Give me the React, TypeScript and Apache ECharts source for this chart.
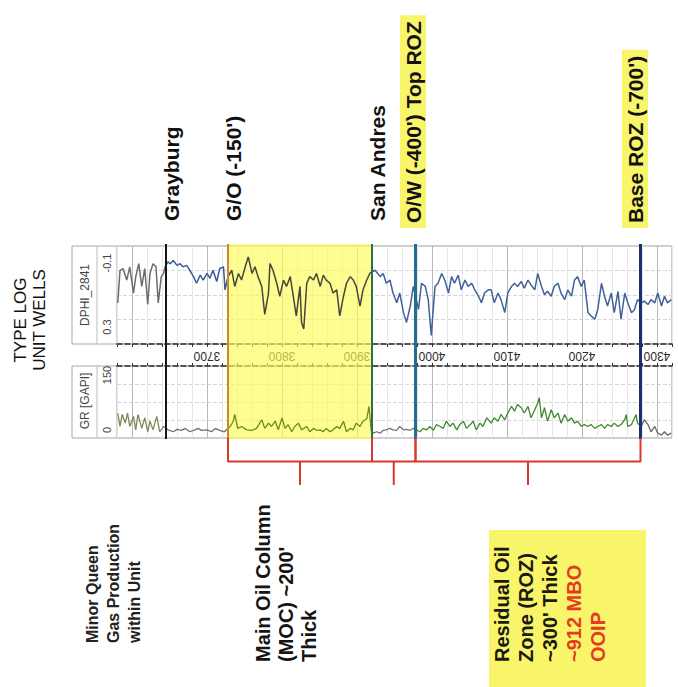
import React, { useEffect, useRef } from 'react';
import * as echarts from 'echarts';

// ---------------- data ----------------
const depthMin = 3580;
const depthMax = 4320;
const depthLabels = [3700, 3800, 3900, 4000, 4100, 4200, 4300];

const dphiDepth = [
  3581, 3584, 3588, 3593, 3597, 3602, 3605, 3609, 3613, 3617,
  3621, 3624, 3628, 3632, 3635, 3639, 3642, 3644, 3648, 3651,
  3655, 3660, 3664, 3668, 3673, 3677, 3682, 3686, 3691, 3695,
  3700, 3704, 3708, 3713, 3717, 3722, 3724, 3728, 3733, 3737,
  3742, 3746, 3751, 3755, 3760, 3764, 3768, 3773, 3777, 3782,
  3784, 3788, 3793, 3797, 3802, 3806, 3811, 3815, 3819, 3824,
  3826, 3829, 3833, 3837, 3842, 3846, 3851, 3855, 3859, 3864,
  3868, 3873, 3877, 3882, 3886, 3891, 3895, 3899, 3904, 3908,
  3913, 3917, 3924, 3931, 3935, 3939, 3944, 3948, 3953, 3957,
  3962, 3966, 3971, 3975, 3977, 3982, 3986, 3991, 3995, 3999,
  4004, 4008, 4013, 4017, 4022, 4026, 4030, 4035, 4039, 4044,
  4048, 4053, 4057, 4062, 4066, 4070, 4075, 4079, 4083, 4088,
  4092, 4097, 4101, 4106, 4110, 4114, 4119, 4123, 4128, 4132,
  4137, 4141, 4146, 4150, 4154, 4159, 4163, 4168, 4172, 4177,
  4181, 4186, 4190, 4194, 4199, 4203, 4208, 4212, 4217, 4221,
  4226, 4230, 4234, 4239, 4243, 4248, 4252, 4257, 4261, 4266,
  4270, 4274, 4279, 4283, 4288, 4292, 4297, 4301, 4306, 4310,
  4314, 4319,
];
const dphiValue = [
  0.132, 0.0, -0.008, 0.039, -0.015, 0.092, 0.025, -0.028, 0.065, -0.008,
  0.139, 0.012, -0.028, -0.015, 0.132, 0.025, 0.012, -0.015, -0.035, -0.028,
  -0.041, -0.021, -0.028, -0.015, -0.021, -0.001, 0.025, 0.052, 0.019, 0.039,
  0.012, 0.032, -0.001, 0.045, -0.008, -0.015, 0.079, 0.025, -0.001, 0.065,
  0.012, 0.039, -0.015, -0.055, 0.012, -0.015, 0.025, 0.065, 0.179, 0.092,
  -0.028, -0.001, 0.052, 0.105, 0.039, 0.065, 0.025, 0.105, 0.185, 0.065,
  0.212, 0.239, 0.052, 0.025, 0.039, 0.012, 0.065, 0.019, 0.039, 0.052,
  0.092, 0.079, 0.185, 0.105, 0.052, 0.025, 0.039, 0.065, 0.145, 0.079,
  0.039, 0.012, -0.001, 0.025, 0.012, 0.052, 0.039, 0.092, 0.132, 0.092,
  0.172, 0.212, 0.145, 0.065, 0.092, 0.159, 0.052, 0.065, 0.119, 0.265,
  0.065, 0.052, 0.012, 0.039, 0.092, 0.025, 0.052, 0.019, 0.079, 0.039,
  0.065, 0.052, 0.079, 0.105, 0.132, 0.092, 0.079, 0.079, 0.132, 0.092,
  0.119, 0.172, 0.092, 0.065, 0.052, 0.065, 0.045, 0.072, 0.039, 0.059,
  0.079, 0.012, 0.065, 0.099, 0.085, 0.105, 0.065, 0.052, 0.092, 0.119,
  0.079, 0.105, 0.039, 0.025, 0.065, 0.039, 0.172, 0.185, 0.199, 0.159,
  0.052, 0.105, 0.145, 0.092, 0.172, 0.085, 0.199, 0.092, 0.132, 0.172,
  0.159, 0.119, 0.132, 0.125, 0.139, 0.119, 0.132, 0.092, 0.145, 0.105,
  0.132, 0.119,
];

const grDepth = [
  3581, 3584, 3587, 3591, 3594, 3597, 3602, 3605, 3608, 3613,
  3617, 3621, 3624, 3628, 3633, 3637, 3642, 3648, 3655, 3660,
  3666, 3671, 3677, 3684, 3688, 3693, 3700, 3706, 3711, 3717,
  3723, 3731, 3735, 3737, 3741, 3746, 3753, 3760, 3766, 3773,
  3777, 3782, 3786, 3791, 3795, 3800, 3804, 3808, 3813, 3817,
  3822, 3826, 3833, 3837, 3842, 3846, 3851, 3855, 3859, 3864,
  3868, 3873, 3877, 3882, 3886, 3891, 3895, 3899, 3904, 3908,
  3913, 3916, 3919, 3922, 3926, 3931, 3935, 3939, 3944, 3948,
  3953, 3957, 3962, 3966, 3971, 3975, 3984, 3988, 3993, 3997,
  4002, 4006, 4011, 4015, 4019, 4024, 4028, 4033, 4037, 4042,
  4046, 4051, 4055, 4059, 4064, 4068, 4073, 4079, 4083, 4088,
  4092, 4097, 4101, 4106, 4110, 4114, 4119, 4123, 4128, 4132,
  4137, 4141, 4143, 4146, 4150, 4154, 4159, 4163, 4168, 4172,
  4177, 4181, 4186, 4190, 4194, 4199, 4203, 4208, 4212, 4217,
  4221, 4226, 4230, 4234, 4239, 4243, 4248, 4252, 4257, 4259,
  4261, 4266, 4270, 4272, 4274, 4279, 4283, 4288, 4292, 4297,
  4301, 4306, 4310, 4314, 4319,
];
const grValue = [
  52, 24, 49, 31, 52, 24, 45, 17, 49, 20,
  42, 13, 35, 17, 45, 13, 24, 17, 13, 18,
  16, 20, 13, 17, 20, 16, 17, 13, 20, 16,
  13, 24, 35, 49, 20, 24, 17, 16, 20, 38,
  20, 31, 24, 35, 17, 42, 20, 28, 13, 24,
  31, 17, 24, 13, 20, 16, 17, 13, 20, 13,
  17, 24, 20, 35, 13, 20, 17, 31, 24, 35,
  40, 66, 15, 10, 13, 10, 16, 17, 20, 17,
  16, 24, 17, 18, 16, 20, 13, 20, 17, 24,
  16, 28, 24, 20, 35, 24, 31, 17, 28, 35,
  20, 28, 35, 17, 31, 24, 42, 31, 42, 35,
  49, 38, 52, 66, 56, 70, 63, 52, 66, 42,
  59, 73, 84, 42, 63, 35, 59, 42, 52, 31,
  49, 35, 42, 31, 35, 24, 28, 24, 28, 20,
  24, 28, 20, 28, 24, 31, 24, 28, 38, 49,
  24, 28, 42, 49, 31, 24, 38, 28, 13, 24,
  10, 6, 13, 6, 10,
];

// formation tops
const topNames = ['Grayburg', "G/O (-150')", 'San Andres', "O/W (-400') Top ROZ", "Base ROZ (-700')"];
const topDepths = [3645, 3728, 3920, 3978, 4278];
const topColors = ['#151515', '#c98a2a', '#2f6e4a', '#1f6f8f', '#1c2f6e'];
const topWidths = [2, 2, 2, 3, 3];

// zones marked by braces
const zoneStart = [3728, 3920, 3978];
const zoneEnd = [3920, 3978, 4278];

// colour intervals of the curves
const dphiBreaks = [3580, 3645, 3728, 3920, 4330];
const dphiColors = ['#6c6c6c', '#3c5a9a', '#46473c', '#41609c'];
const grBreaks = [3580, 3645, 3728, 3920, 3978, 4278, 4330];
const grColors = ['#85855c', '#707070', '#6d8a1c', '#777777', '#3e8a2e', '#666666'];

// ---------------- layout constants ----------------
const FF = '"Liberation Sans", Arial, Helvetica, sans-serif';
const L = 117;
const W = 555;

function vtext(text: string, x: number, y: number, style: any) {
  return {
    type: 'text',
    x,
    y,
    rotation: Math.PI / 2,
    silent: true,
    style: {
      text,
      fontFamily: FF,
      align: 'left',
      verticalAlign: 'middle',
      fill: '#111',
      ...style,
    },
  };
}

export default function App() {
  const ref = useRef<HTMLDivElement>(null);

  useEffect(() => {
    document.body.style.margin = '0';
    const chart = echarts.init(ref.current!, null, { renderer: 'svg' });

    const dphiData = dphiDepth.map((d, i) => [d, dphiValue[i]]);
    const grData = grDepth.map((d, i) => [d, grValue[i]]);

    const pieces = (b: number[], c: string[]) =>
      c.map((col, i) => ({ gte: b[i], lt: b[i + 1], color: col }));

    const braceSeries = zoneStart.map((s, i) => {
      const e = zoneEnd[i];
      const m = (s + e) / 2;
      return {
        type: 'line',
        xAxisIndex: 5,
        yAxisIndex: 4,
        symbol: 'none',
        silent: true,
        z: 5,
        lineStyle: { color: '#d8392a', width: 2 },
        data: [
          [s, 0],
          [s, 1],
          [m, 1],
          [m, 2],
          [m, 1],
          [e, 1],
          [e, 0],
        ],
      };
    });

    const dashed = { color: '#2a2a2a', width: 1.6, type: [5, 3] as any };
    const minorMajor = ['#e6e6e6', '#b9b9b9', '#e6e6e6', '#e6e6e6', '#e6e6e6'];

    const baseX = {
      type: 'value',
      min: depthMin,
      max: depthMax,
      interval: 20,
    };

    const option: any = {
      animation: false,
      backgroundColor: '#ffffff',
      grid: [
        { left: L, width: W, top: 246, height: 98, show: true, borderColor: '#9a9a9a', borderWidth: 1 },
        { left: L, width: W, top: 344, height: 22 },
        { left: L, width: W, top: 366, height: 72, show: true, borderColor: '#9a9a9a', borderWidth: 1 },
        { left: L, width: W, top: 244, height: 195 },
        { left: L, width: W, top: 438, height: 47 },
      ],
      xAxis: [
        {
          ...baseX,
          gridIndex: 0,
          position: 'bottom',
          axisLine: { show: true, onZero: false, lineStyle: dashed },
          axisTick: { show: true, length: 3, lineStyle: { color: '#333' } },
          axisLabel: { show: false },
          splitLine: { show: true, lineStyle: { color: minorMajor, width: 1 } },
        },
        {
          ...baseX,
          gridIndex: 1,
          position: 'top',
          axisLine: { show: false, onZero: false },
          axisTick: { show: false },
          axisLabel: {
            show: true,
            inside: true,
            rotate: 180,
            margin: 6,
            fontSize: 12,
            fontFamily: FF,
            color: '#2a2a2a',
            formatter: (v: number) => (depthLabels.indexOf(v) >= 0 ? String(v) : ''),
          },
          splitLine: { show: false },
        },
        {
          ...baseX,
          gridIndex: 1,
          position: 'bottom',
          axisLine: { show: true, onZero: false, lineStyle: dashed },
          axisTick: { show: true, inside: true, length: 3, lineStyle: { color: '#333' } },
          axisLabel: { show: false },
          splitLine: { show: false },
        },
        {
          ...baseX,
          gridIndex: 2,
          position: 'bottom',
          axisLine: { show: false, onZero: false },
          axisTick: { show: false },
          axisLabel: { show: false },
          splitLine: { show: true, lineStyle: { color: minorMajor, width: 1 } },
        },
        { ...baseX, gridIndex: 3, show: false },
        { ...baseX, gridIndex: 4, show: false },
      ],
      yAxis: [
        {
          type: 'value',
          gridIndex: 0,
          min: -0.1,
          max: 0.3,
          interval: 0.1,
          inverse: true,
          axisLine: { show: false },
          axisTick: { show: false },
          axisLabel: { show: false },
          splitLine: { show: true, lineStyle: { color: '#d6d6d6', type: 'dashed' } },
        },
        { type: 'value', gridIndex: 1, min: 0, max: 1, show: false },
        {
          type: 'value',
          gridIndex: 2,
          min: 0,
          max: 150,
          interval: 37.5,
          axisLine: { show: false },
          axisTick: { show: false },
          axisLabel: { show: false },
          splitLine: { show: true, lineStyle: { color: '#d6d6d6', type: 'dashed' } },
        },
        { type: 'value', gridIndex: 3, min: 0, max: 1, show: false },
        { type: 'value', gridIndex: 4, min: 0, max: 2, inverse: true, show: false },
      ],
      visualMap: [
        {
          type: 'piecewise',
          show: false,
          seriesIndex: 0,
          dimension: 0,
          pieces: pieces(dphiBreaks, dphiColors),
        },
        {
          type: 'piecewise',
          show: false,
          seriesIndex: 1,
          dimension: 0,
          pieces: pieces(grBreaks, grColors),
        },
      ],
      series: [
        {
          name: 'DPHI_2841',
          type: 'line',
          xAxisIndex: 0,
          yAxisIndex: 0,
          symbol: 'none',
          silent: true,
          z: 3,
          lineStyle: { width: 1.5 },
          data: dphiData,
        },
        {
          name: 'GR',
          type: 'line',
          xAxisIndex: 3,
          yAxisIndex: 2,
          symbol: 'none',
          silent: true,
          z: 3,
          lineStyle: { width: 1.3 },
          data: grData,
        },
        {
          type: 'line',
          xAxisIndex: 4,
          yAxisIndex: 3,
          data: [],
          silent: true,
          z: 1,
          markArea: {
            silent: true,
            itemStyle: { color: 'rgba(252,252,90,0.66)' },
            data: [[{ xAxis: topDepths[1] }, { xAxis: topDepths[2] }]],
          },
        },
        {
          type: 'line',
          xAxisIndex: 4,
          yAxisIndex: 3,
          data: [],
          silent: true,
          z: 10,
          markLine: {
            silent: true,
            symbol: ['none', 'none'],
            label: { show: false },
            data: topDepths.map((d, i) => ({
              xAxis: d,
              name: topNames[i],
              lineStyle: { color: topColors[i], width: topWidths[i], type: 'solid' },
            })),
          },
        },
        ...braceSeries,
      ],
      graphic: [
        // header boxes
        { type: 'rect', silent: true, shape: { x: 72, y: 246, width: 45, height: 98 }, style: { fill: '#fff', stroke: '#a8a8a8', lineWidth: 1 } },
        { type: 'line', silent: true, shape: { x1: 97, y1: 246, x2: 97, y2: 344 }, style: { stroke: '#bdbdbd', lineWidth: 1 } },
        { type: 'rect', silent: true, shape: { x: 72, y: 366, width: 45, height: 72 }, style: { fill: '#fff', stroke: '#a8a8a8', lineWidth: 1 } },
        { type: 'line', silent: true, shape: { x1: 97, y1: 366, x2: 97, y2: 438 }, style: { stroke: '#bdbdbd', lineWidth: 1 } },
        vtext('DPHI_2841', 85, 295, { align: 'center', fontSize: 12, fill: '#444' }),
        vtext('0.3', 107, 327, { align: 'center', fontSize: 11, fill: '#444' }),
        vtext('-0.1', 107, 263, { align: 'center', fontSize: 11, fill: '#444' }),
        vtext('GR [GAPI]', 85, 401, { align: 'center', fontSize: 12, fill: '#444' }),
        vtext('0', 107, 430, { align: 'center', fontSize: 11, fill: '#444' }),
        vtext('150', 107, 375, { align: 'center', fontSize: 11, fill: '#444' }),

        // title
        vtext('TYPE LOG\nUNIT WELLS', 30, 320, { align: 'center', fontSize: 17, lineHeight: 19, fill: '#111' }),

        // formation top labels
        vtext(topNames[0], 171, 221, { fontSize: 21, fontWeight: 'bold' }),
        vtext(topNames[1], 233, 221, { fontSize: 21, fontWeight: 'bold' }),
        vtext(topNames[2], 377, 221, { fontSize: 21, fontWeight: 'bold' }),
        vtext(topNames[3], 413, 228, {
          fontSize: 21,
          fontWeight: 'bold',
          backgroundColor: '#f9f56b',
          padding: [3, 6, 2, 5],
        }),
        vtext(topNames[4], 635, 228, {
          fontSize: 21,
          fontWeight: 'bold',
          backgroundColor: '#f9f56b',
          padding: [3, 6, 2, 5],
        }),

        // bottom annotations
        vtext('Minor Queen\nGas Production\nwithin Unit', 82, 643, {
          verticalAlign: 'top',
          fontSize: 16,
          fontWeight: 'bold',
          lineHeight: 21,
          fill: '#222',
        }),
        vtext('Main Oil Column\n(MOC) ~200\'\nThick', 251, 662, {
          verticalAlign: 'top',
          fontSize: 20,
          fontWeight: 'bold',
          lineHeight: 23,
          fill: '#151515',
        }),
        { type: 'rect', silent: true, shape: { x: 489, y: 530, width: 157, height: 157 }, style: { fill: '#f9f56b' } },
        {
          type: 'text',
          x: 490,
          y: 662,
          rotation: Math.PI / 2,
          silent: true,
          style: {
            text:
              '{k|Residual Oil}\n{k|Zone (ROZ)}\n{k|~300\' Thick}\n{r|~912 MBO}\n{r|OOIP}',
            fontFamily: FF,
            fontSize: 20,
            fontWeight: 'bold',
            align: 'left',
            verticalAlign: 'top',
            rich: {
              k: { fill: '#1a1a10', fontSize: 20, fontWeight: 'bold', fontFamily: FF, lineHeight: 24 },
              r: { fill: '#e53b24', fontSize: 20, fontWeight: 'bold', fontFamily: FF, lineHeight: 24 },
            },
          },
        },
      ],
    };

    chart.setOption(option);
    return () => chart.dispose();
  }, []);

  return <div ref={ref} style={{ width: 678, height: 687, background: '#fff' }} />;
}
